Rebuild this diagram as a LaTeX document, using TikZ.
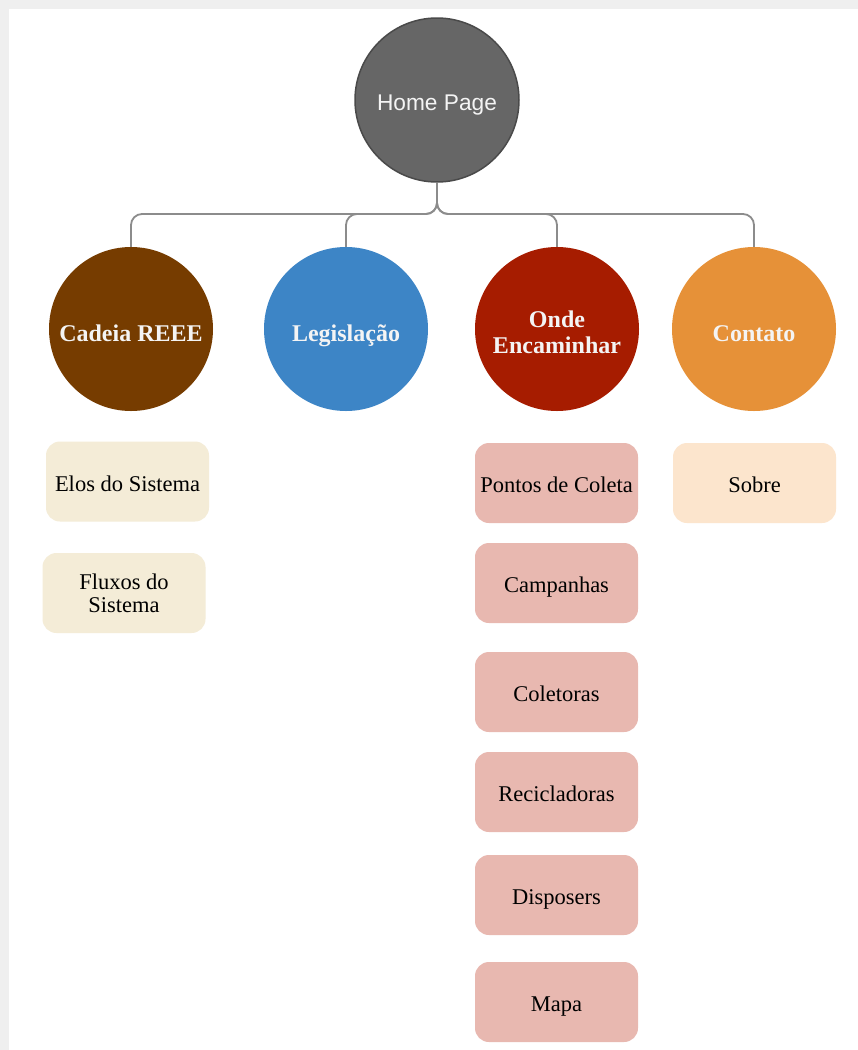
\documentclass[tikz,border=0pt]{standalone}
\usepackage{fontspec}
\setmainfont{Liberation Serif}
\newfontfamily\arialf{Liberation Sans}
\definecolor{homefill}{HTML}{666666}
\definecolor{homeline}{HTML}{4A4A4A}
\definecolor{brownc}{HTML}{763C00}
\definecolor{bluec}{HTML}{3D85C6}
\definecolor{redc}{HTML}{A61C00}
\definecolor{orangec}{HTML}{E69138}
\definecolor{beigec}{HTML}{F4ECD7}
\definecolor{pinkc}{HTML}{E8B8B0}
\definecolor{peachc}{HTML}{FCE5CD}
\definecolor{connc}{HTML}{8C8C8C}
\definecolor{labelc}{HTML}{F4F4F4}
\definecolor{framec}{HTML}{EFEFEF}
\begin{document}
\begin{tikzpicture}[x=1pt,y=-1pt,
  topcirc/.style={circle,inner sep=0pt,minimum size=164pt,text=labelc,align=center,
    font=\fontsize{24}{26}\selectfont\bfseries},
  oneline/.style={text height=25pt,text depth=0pt},
  menubox/.style={rectangle,rounded corners=14pt,minimum width=163pt,minimum height=80pt,
    inner sep=0pt,align=center,text=black,font=\fontsize{22.5}{23}\selectfont},
  boxline/.style={text height=19.5pt,text depth=0pt},
  conn/.style={draw=connc,line width=1.8pt,rounded corners=11pt}]
\useasboundingbox (0,0) rectangle (858,1050);
\fill[framec] (0,0) rectangle (858,1050);
\fill[white] (9,9) rectangle (858,1050);
\node[circle,inner sep=0pt,minimum size=164pt,fill=homefill,draw=homeline,line width=1.5pt,
  text=labelc,font=\arialf\fontsize{22.7}{26}\selectfont,text height=20pt,text depth=0pt]
  (home) at (437,100) {Home Page};
\node[topcirc,oneline,fill=brownc] (cad) at (131,329) {Cadeia REEE};
\node[topcirc,oneline,fill=bluec] (leg) at (346,329) {Legisla\c{c}\~ao};
\node[topcirc,fill=redc] (onde) at (557,329) {\rule{0pt}{24pt}Onde\\Encaminhar};
\node[topcirc,oneline,fill=orangec] (cont) at (754,329) {Contato};
\coordinate (bus) at (437,214);
\foreach \c in {cad,leg,onde,cont}{
  \draw[conn] (home.south) |- (\c.north |- bus) -- (\c.north);
}
\node[menubox,boxline,fill=beigec] (elos) at (127.5,481.5) {Elos do Sistema};
\node[menubox,fill=beigec] (flux) at (124,593) {Fluxos do\\Sistema};
\node[menubox,boxline,fill=pinkc] (pont) at (556.5,483) {Pontos de Coleta};
\node[menubox,boxline,fill=pinkc] (camp) at (556.5,583) {Campanhas};
\node[menubox,boxline,fill=pinkc] (colt) at (556.5,692) {Coletoras};
\node[menubox,boxline,fill=pinkc] (reci) at (556.5,792) {Recicladoras};
\node[menubox,boxline,fill=pinkc] (disp) at (556.5,895) {Disposers};
\node[menubox,boxline,fill=pinkc] (mapa) at (556.5,1002) {Mapa};
\node[menubox,boxline,fill=peachc] (sobr) at (754.5,483) {Sobre};
\end{tikzpicture}
\end{document}
